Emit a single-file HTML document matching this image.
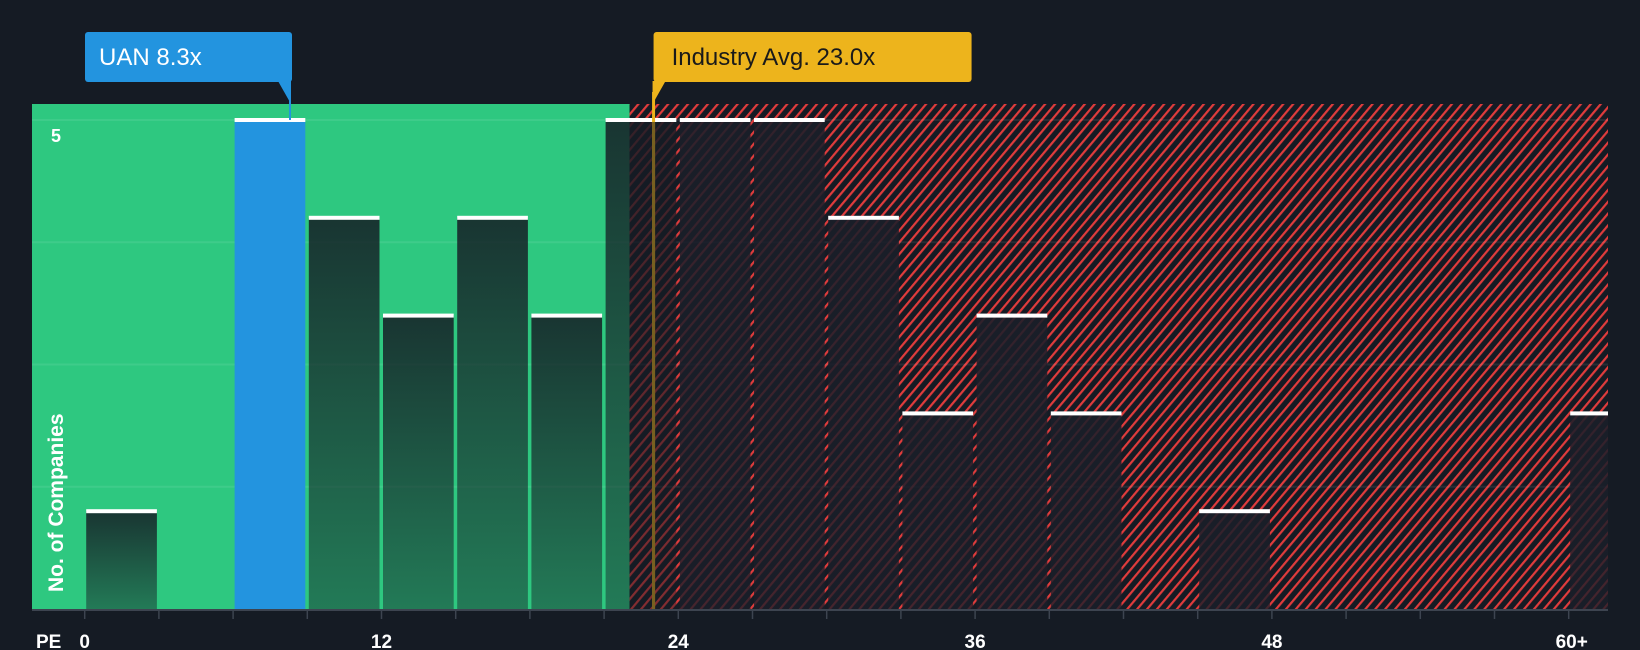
<!DOCTYPE html>
<html><head><meta charset="utf-8"><style>
html,body{margin:0;padding:0;background:#151b24;}
svg{display:block;font-family:"Liberation Sans",sans-serif;}
</style></head><body>
<svg id="chart" width="1640" height="650" viewBox="0 0 1640 650">
<defs>
<pattern id="hatch" patternUnits="userSpaceOnUse" width="7.6" height="10" patternTransform="rotate(40)">
<rect width="7.6" height="10" fill="#151b24"/>
<rect x="0" y="0" width="2.2" height="10" fill="#e03c3c"/>
</pattern>
<linearGradient id="barGrad" x1="0" y1="0" x2="0" y2="1">
<stop offset="0" stop-color="#151b24" stop-opacity="0.85"/>
<stop offset="1" stop-color="#151b24" stop-opacity="0.45"/>
</linearGradient>
<linearGradient id="barGradRed" x1="0" y1="0" x2="0" y2="1">
<stop offset="0" stop-color="#1a1e29" stop-opacity="0.88"/>
<stop offset="1" stop-color="#1a1e29" stop-opacity="0.78"/>
</linearGradient>
</defs>
<g id="bg"></g>
<g id="grid"></g>
<g id="bars"></g>
<g id="axis"></g>
<g id="ann"></g>
</svg>
<script>
const binStarts = [0,3,6,9,12,15,18,21,24,27,30,33,36,39,42,45,48,51,54,57,60];
const counts    = [1,0,5,4,3,4,3,5,5,5,4,2,3,2,0,1,0,0,0,0,2];
const tickValues = [0,12,24,36,48,60];
const tickLabels = ["0","12","24","36","48","60+"];
const yTicks = [5];
const companyPE = 8.3;
const industryPE = 23.0;
const companyBin = 2;

const NS="http://www.w3.org/2000/svg";
const plotL=32, plotR=1608, plotT=104, plotB=609;
const x0=84.7, pxPerUnit=74.2/3;
const yMaxPx=120; // y of value 5
const X=v=>x0+v*pxPerUnit;
const Y=c=>plotB-c*(plotB-yMaxPx)/5;
function mk(tag,attrs,parent){const e=document.createElementNS(NS,tag);for(const k in attrs)e.setAttribute(k,attrs[k]);parent.appendChild(e);return e;}
const bg=document.getElementById('bg'),grid=document.getElementById('grid'),bars=document.getElementById('bars'),axis=document.getElementById('axis'),ann=document.getElementById('ann');

const greenEnd=X(industryPE)-24;
let r=mk('rect',{x:plotL,y:plotT,width:greenEnd-plotL,height:plotB-plotT,fill:'#2ec880'},bg);


r=mk('rect',{x:greenEnd,y:plotT,width:plotR-greenEnd,height:plotB-plotT,fill:'url(#hatch)'},bg);



for(let i=1;i<=4;i++){
  const gy=Y(i*1.25);
  const l=mk('line',{x1:plotL,x2:plotR,y1:gy,y2:gy,stroke:'#ffffff','stroke-opacity':0.08,'stroke-width':2},grid);
  
  
}

binStarts.forEach((s,i)=>{
  const c=counts[i]; if(!c) return;
  const bx=X(s)+1.5, bw=Math.min(X(s+3)-2, plotR)-bx, by=Y(c);
  const inRed = bx>greenEnd;
  let fill = i===companyBin ? '#2394df' : (inRed?'url(#barGradRed)':'url(#barGrad)');
  const b=mk('rect',{x:bx,y:by,width:bw,height:plotB-by,fill:fill},bars);
  
  
  const cap=mk('rect',{x:bx,y:by-2,width:bw,height:4,fill:'#ffffff'},bars);
  
  
});

let ax=mk('line',{x1:plotL,x2:plotR,y1:plotB+1,y2:plotB+1,stroke:'#3d4450','stroke-width':2},axis);


for(let i=0;i<=20;i++){
  const tx=X(i*3);
  const t=mk('line',{x1:tx,x2:tx,y1:plotB,y2:plotB+10,stroke:'#3d4450','stroke-width':1.5},axis);
  
  
}
tickValues.forEach((v,i)=>{
  const t=mk('text',{x:X(v)+(i===tickValues.length-1?3:0),y:648,fill:'#ffffff','font-size':19,'font-weight':'bold','text-anchor':'middle'},axis);
  t.textContent=tickLabels[i];
  
  
});
let pe=mk('text',{x:36,y:648,fill:'#ffffff','font-size':19,'font-weight':'bold'},axis);
pe.textContent='PE';


yTicks.forEach(v=>{
  const t=mk('text',{x:51,y:Y(v)+22,fill:'#ffffff','font-size':18,'font-weight':'bold'},axis);
  t.textContent=String(v);
  
  
});
let yt=mk('text',{x:0,y:0,fill:'#ffffff','font-size':21,'font-weight':'bold',transform:'translate(63,592) rotate(-90)'},axis);
yt.textContent='No. of Companies';



const ix=X(industryPE);
let il=mk('line',{x1:ix,x2:ix,y1:plotT-12,y2:plotB,stroke:'#edb41c','stroke-width':3},ann);


let sh=mk('line',{x1:ix,x2:ix,y1:Y(5)+2,y2:plotB,stroke:'#151b24','stroke-opacity':0.55,'stroke-width':3},ann);



const cx=X(companyPE);
let cl=mk('line',{x1:cx,x2:cx,y1:plotT-20,y2:Y(5),stroke:'#2394df','stroke-width':2},ann);



let cb=mk('rect',{x:85,y:32,width:207,height:50,rx:3,fill:'#2394df'},ann);


let cp=mk('polygon',{points:`${cx-12},81 ${cx+1},81 ${cx+1},104`,fill:'#2394df'},ann);


let ct=mk('text',{x:99,y:65,fill:'#ffffff','font-size':24},ann);
ct.textContent='UAN 8.3x';



let ib=mk('rect',{x:ix,y:32,width:318,height:50,rx:3,fill:'#edb41c'},ann);


let ip=mk('polygon',{points:`${ix-1},81 ${ix+12},81 ${ix-1},104`,fill:'#edb41c'},ann);


let it=mk('text',{x:ix+18,y:65,fill:'#1a1a1a','font-size':24},ann);
it.textContent='Industry Avg. 23.0x';


</script>
</body></html>
